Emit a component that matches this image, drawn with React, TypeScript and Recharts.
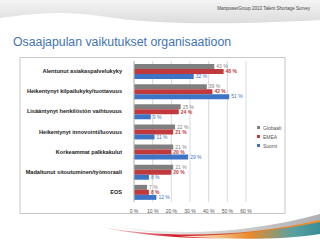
import React from "react";
import { BarChart, Bar, XAxis, YAxis, CartesianGrid, LabelList } from "recharts";

const categories = [
  "Alentunut asiakaspalvelukyky",
  "Heikentynyt kilpailukyky/tuottavuus",
  "Lisääntynyt henkilöstön vaihtuvuus",
  "Heikentynyt innovointi/luovuus",
  "Korkeammat palkkakulut",
  "Madaltunut sitoutuminen/työmoraali",
  "EOS",
];
const globaali = [43, 39, 25, 22, 21, 21, 7];
const emea = [48, 42, 24, 21, 20, 20, 8];
const suomi = [32, 51, 9, 11, 29, 8, 12];
const xTicks = [0, 10, 20, 30, 40, 50, 60];
const seriesNames = ["Globaali", "EMEA", "Suomi"];
const colors = ["#7f7f7f", "#c0393d", "#3d74c4"];

const data = categories.map((c, i) => ({
  name: c,
  Globaali: globaali[i],
  EMEA: emea[i],
  Suomi: suomi[i],
}));

const fmt = (v: any) => `${v} %`;

const CatTick = (props: any) => {
  const { x, y, payload } = props;
  return (
    <text x={x - 4} y={y} dy={2} textAnchor="end" fontSize={5.6} fontWeight="bold" fill="#222">
      {payload.value}
    </text>
  );
};

const NumTick = (props: any) => {
  const { x, y, payload } = props;
  return (
    <text x={x} y={y} dy={3} textAnchor="middle" fontSize={5} fill="#555">
      {fmt(payload.value)}
    </text>
  );
};

export default function App() {
  return (
    <div style={{ position: "absolute", left: 0, top: 0, width: 320, height: 240, background: "#fff", overflow: "hidden", fontFamily: "'Liberation Sans', Arial, sans-serif" }}>
      <svg width={320} height={240} style={{ position: "absolute", left: 0, top: 0 }}>
        <defs>
          <linearGradient id="hdr" x1="0" y1="0" x2="0" y2="1">
            <stop offset="0" stopColor="#f4f4f4" />
            <stop offset="1" stopColor="#dcdcdc" />
          </linearGradient>
          <linearGradient id="sw1" x1="0" y1="0" x2="1" y2="0">
            <stop offset="0" stopColor="#ffffff" />
            <stop offset="0.35" stopColor="#d0202e" />
            <stop offset="0.7" stopColor="#e07a2a" />
            <stop offset="1" stopColor="#f0902a" />
          </linearGradient>
          <linearGradient id="sw2" x1="0" y1="0" x2="1" y2="0">
            <stop offset="0" stopColor="#ffffff" />
            <stop offset="0.5" stopColor="#e88a2a" />
            <stop offset="0.8" stopColor="#5aa0a0" />
            <stop offset="1" stopColor="#3a8e96" />
          </linearGradient>
          <linearGradient id="sw3" x1="0" y1="0" x2="1" y2="0">
            <stop offset="0" stopColor="#ffffff" />
            <stop offset="1" stopColor="#b0b0b0" />
          </linearGradient>
        </defs>
        <path d="M0 0 H320 V20 C250 24 160 26 100 16 C60 10 30 14 0 18 Z" fill="url(#hdr)" />
        <path d="M85 220 C150 236 230 238 320 214 V222 C240 240 160 240 85 220 Z" fill="url(#sw3)" />
        <path d="M95 226 C170 240 250 236 320 220 V228 C250 242 170 242 95 226 Z" fill="url(#sw1)" />
        <path d="M180 236 C240 236 290 228 320 222 V234 C280 240 230 240 180 236 Z" fill="url(#sw2)" />
        <text x={310} y={10} fontSize={4.5} fill="#444" textAnchor="end">ManpowerGroup 2013 Talent Shortage Survey</text>
        <text x={13} y={46} fontSize={12.3} fill="#3f74b3">Osaajapulan vaikutukset organisaatioon</text>
        <rect x={20} y={57.5} width={265} height={156} fill="none" stroke="#c8c8c8" strokeWidth={1} />
      </svg>
      <div style={{ position: "absolute", left: 20, top: 57 }}>
        <BarChart
          width={266}
          height={162}
          data={data}
          layout="vertical"
          margin={{ top: 4, right: 40, bottom: 6, left: 0 }}
          barCategoryGap={3}
          barGap={0}
        >
          <CartesianGrid horizontal={false} stroke="#d9d9d9" />
          <XAxis
            type="number"
            domain={[0, 60]}
            ticks={xTicks}
            axisLine={false}
            tickLine={false}
            tick={<NumTick />}
            height={11}
            interval={0}
          />
          <YAxis
            type="category"
            dataKey="name"
            width={114}
            axisLine={{ stroke: "#bfbfbf" }}
            tickLine={false}
            tick={<CatTick />}
            interval={0}
          />
          {seriesNames.map((s, i) => (
            <Bar key={s} dataKey={s} fill={colors[i]} isAnimationActive={false}>
              <LabelList
                dataKey={s}
                position="right"
                formatter={fmt}
                offset={2}
                style={{ fontSize: 5, fill: colors[i], fontWeight: i === 1 ? "bold" : "normal" }}
              />
            </Bar>
          ))}
        </BarChart>
      </div>
      <div style={{ position: "absolute", left: 257, top: 123 }}>
        {seriesNames.map((s, i) => (
          <div key={s} style={{ display: "flex", alignItems: "center", height: 9, fontSize: 5, color: "#555" }}>
            <span style={{ display: "inline-block", width: 3, height: 3, background: colors[i], marginRight: 3 }} />
            {s}
          </div>
        ))}
      </div>
    </div>
  );
}
